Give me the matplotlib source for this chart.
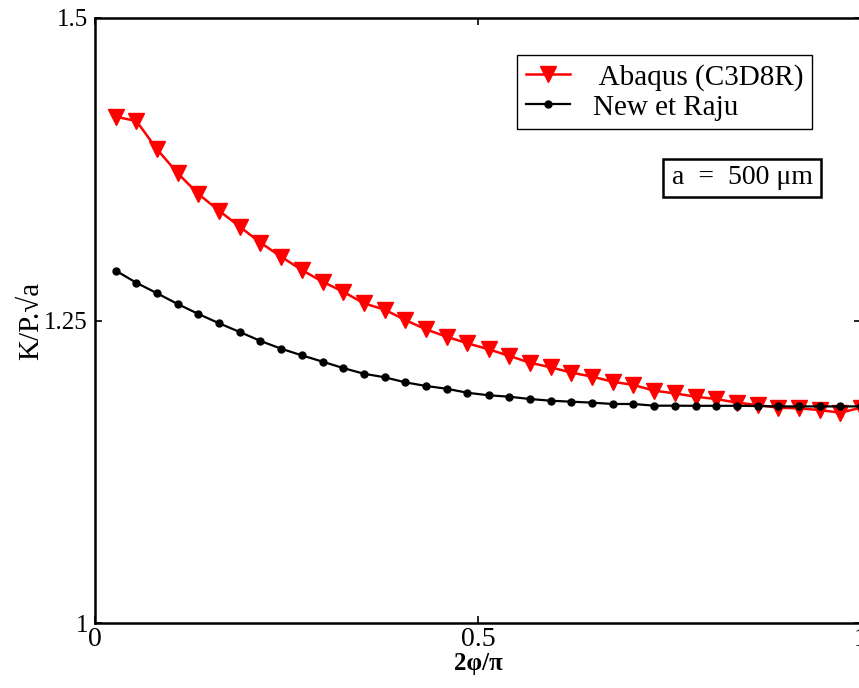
import matplotlib
matplotlib.use("Agg")
import matplotlib.pyplot as plt
from matplotlib.patches import Rectangle

# x positions (2phi/pi)
x_vals = [0.027, 0.054, 0.081, 0.108, 0.135, 0.162, 0.189, 0.216, 0.243, 0.270,
          0.297, 0.324, 0.351, 0.378, 0.405, 0.432, 0.459, 0.486, 0.514, 0.541,
          0.568, 0.595, 0.622, 0.649, 0.676, 0.703, 0.730, 0.757, 0.784, 0.811,
          0.838, 0.865, 0.892, 0.919, 0.946, 0.973, 1.000]

abaqus = [1.4184, 1.4149, 1.3915, 1.3717, 1.3545, 1.3407, 1.3275, 1.3143, 1.3027, 1.2917,
          1.2821, 1.2738, 1.2642, 1.2590, 1.2504, 1.2427, 1.2366, 1.2312, 1.2262, 1.2207,
          1.2151, 1.2113, 1.2069, 1.2036, 1.1994, 1.1967, 1.1920, 1.1898, 1.1870, 1.1851,
          1.1821, 1.1802, 1.1779, 1.1774, 1.1760, 1.1738, 1.1780]

newman_raju = [1.2912, 1.2812, 1.2725, 1.2636, 1.2554, 1.2477, 1.2405, 1.2331, 1.2267, 1.2212,
               1.2160, 1.2107, 1.2060, 1.2031, 1.1989, 1.1959, 1.1936, 1.1903, 1.1882, 1.1870,
               1.1851, 1.1837, 1.1829, 1.1821, 1.1810, 1.1810, 1.1796, 1.1796, 1.1795, 1.1795,
               1.1795, 1.1793, 1.1790, 1.1790, 1.1790, 1.1790, 1.1790]

series_labels = [" Abaqus (C3D8R)", "New et Raju"]
x_ticks = [0, 0.5, 1]
x_ticklabels = ["0", "0.5", "1"]
y_ticks = [1, 1.25, 1.5]
y_ticklabels = ["1", "1.25", "1.5"]

SERIF = ["Liberation Serif", "DejaVu Serif"]
W, H = 859, 688

fig = plt.figure(figsize=(W / 100, H / 100), dpi=100)
ax = fig.add_axes([95 / W, 65 / H, (861 - 95) / W, (623 - 18) / H])

ax.plot(x_vals, abaqus, color="red", lw=1.8, marker="v", markersize=11.5,
        markeredgecolor="red", markerfacecolor="red", label=series_labels[0], zorder=3)
ax.plot(x_vals, newman_raju, color="black", lw=1.6, marker="o", markersize=5,
        markeredgecolor="black", markerfacecolor="black", label=series_labels[1], zorder=4)

ax.set_xlim(0, 1)
ax.set_ylim(1, 1.5)
ax.set_xticks(x_ticks)
ax.set_xticklabels(x_ticklabels, fontfamily=SERIF, fontsize=20)
ax.set_yticks(y_ticks)
ax.set_yticklabels(y_ticklabels, fontfamily=SERIF, fontsize=18)
ax.tick_params(direction="in", length=5, width=1.2, top=True, right=True, pad=3)
ax.tick_params(axis="y", pad=5)
for s in ax.spines.values():
    s.set_linewidth(1.8)

ax.set_xlabel("2φ/π", fontfamily=SERIF, fontsize=18, fontweight="bold", labelpad=0)
ax.set_ylabel("K/P.√a", fontfamily=SERIF, fontsize=21, labelpad=0)

leg = ax.legend(loc="upper left", bbox_to_anchor=(517 / W, 1 - 55 / H),
                bbox_transform=fig.transFigure, prop={"family": SERIF, "size": 21},
                frameon=True, fancybox=False, edgecolor="black", framealpha=1,
                handlelength=1.5, borderpad=0.3, labelspacing=0.12, handletextpad=0.8,
                borderaxespad=0)
leg.get_frame().set_linewidth(1.0)

# annotation box
box_x0, box_y0, box_x1, box_y1 = 663, 159, 821, 197
fig.add_artist(Rectangle((box_x0 / W, 1 - box_y1 / H), (box_x1 - box_x0) / W,
                         (box_y1 - box_y0) / H, transform=fig.transFigure,
                         facecolor="white", edgecolor="black", linewidth=1.8, zorder=5))
fig.text((box_x0 + box_x1) / 2 / W, 1 - (box_y0 + box_y1) / 2 / H, "a  =  500 μm",
         fontfamily=SERIF, fontsize=20, ha="center", va="center", zorder=6)

fig.savefig("out.png", dpi=100)
